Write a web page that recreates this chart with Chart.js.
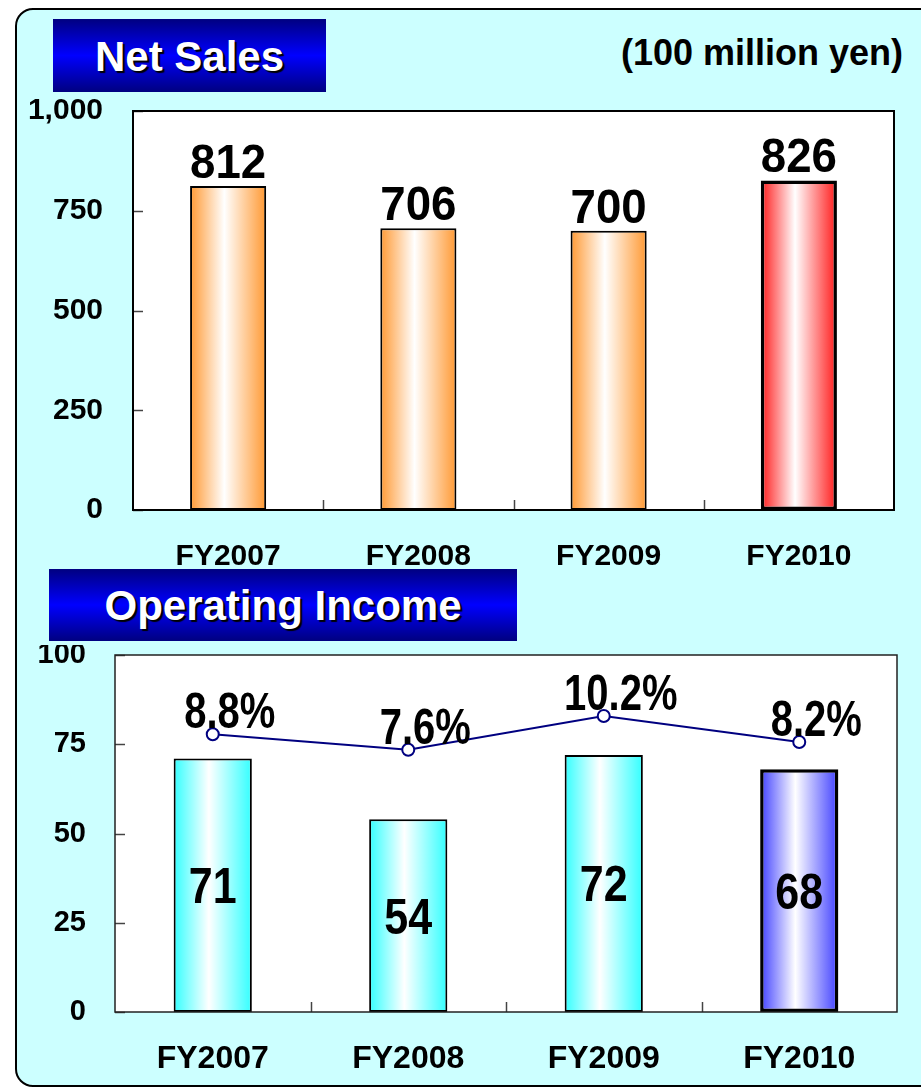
<!DOCTYPE html>
<html>
<head>
<meta charset="utf-8">
<script src="https://cdn.jsdelivr.net/npm/chart.js@4.4.0/dist/chart.umd.min.js"></script>
<style>
  html, body { margin:0; padding:0; background:#fff; width:921px; height:1088px; overflow:hidden;
    font-family:"Liberation Sans", Arial, sans-serif; }
  .panel { position:absolute; left:15px; top:8px; width:940px; height:1075px; background:#ccffff;
    border:2px solid #000; border-radius:18px; }
  .title { position:absolute; color:#fff; font-weight:bold; font-size:42px; text-align:center;
    text-shadow:2px 2px 1px #000; background:linear-gradient(#000080, #0000ff 50%, #000080); }
  .unit { position:absolute; right:18px; top:32px; font-weight:bold; font-size:36px; color:#000; }
  canvas { position:absolute; left:0; }
</style>
</head>
<body>
<div class="panel"></div>
<div class="title" style="left:53px; top:19px; width:273px; height:73px; line-height:75px;">Net Sales</div>
<div class="unit">(100 million yen)</div>
<div class="title" style="left:49px; top:569px; width:468px; height:72px; line-height:74px;">Operating Income</div>
<canvas id="sales" width="921" height="480" style="top:95px"></canvas>
<canvas id="income" width="921" height="440" style="top:645px"></canvas>
<script>
const years = ['FY2007', 'FY2008', 'FY2009', 'FY2010'];
const netSales = [812, 706, 700, 826];
const salesTicks = [0, 250, 500, 750, 1000];
const opIncome = [71, 54, 72, 68];
const opMargin = [8.8, 7.6, 10.2, 8.2];
const incomeTicks = [0, 25, 50, 75, 100];

const BAR_PCT = 0.4;
const FONT = '"Liberation Sans", Arial, sans-serif';

// horizontal gradient across each bar, edge colour -> white -> edge colour
function barFill(edge) {
  return function (c) {
    const chart = c.chart, a = chart.chartArea;
    if (!a || !chart.scales.x) return edge;
    const cx = chart.scales.x.getPixelForValue(c.dataIndex);
    const w = a.width / years.length * BAR_PCT;
    const g = chart.ctx.createLinearGradient(cx - w / 2, 0, cx + w / 2, 0);
    g.addColorStop(0, edge);
    g.addColorStop(0.45, '#ffffff');
    g.addColorStop(1, edge);
    return g;
  };
}

function drawText(ctx, text, x, cy, size, sx) {
  ctx.save();
  ctx.translate(x, cy + size * 0.358);
  ctx.scale(sx, 1);
  ctx.font = 'bold ' + size + 'px ' + FONT;
  ctx.textAlign = 'center';
  ctx.textBaseline = 'alphabetic';
  ctx.fillStyle = '#000';
  ctx.fillText(text, 0, 0);
  ctx.restore();
}

// white plot area, frame and inward tick marks
const frame = {
  id: 'frame',
  beforeDraw(chart, args, o) {
    const { ctx, chartArea: a } = chart;
    ctx.save();
    ctx.fillStyle = '#fff';
    ctx.fillRect(a.left, a.top, a.width, a.height);
    ctx.strokeStyle = '#444';
    ctx.lineWidth = 1.5;
    const ys = chart.scales.y;
    ys.ticks.forEach(t => {
      const y = Math.round(ys.getPixelForValue(t.value)) + 0.5;
      ctx.beginPath(); ctx.moveTo(a.left, y); ctx.lineTo(a.left + 10, y); ctx.stroke();
    });
    const xs = chart.scales.x;
    for (let i = 1; i < years.length; i++) {
      const x = Math.round((xs.getPixelForValue(i - 1) + xs.getPixelForValue(i)) / 2) + 0.5;
      ctx.beginPath(); ctx.moveTo(x, a.bottom); ctx.lineTo(x, a.bottom - 10); ctx.stroke();
    }
    ctx.restore();
  },
  afterDatasetsDraw(chart, args, o) {
    const { ctx, chartArea: a } = chart;
    ctx.save();
    ctx.strokeStyle = o.color || '#000';
    ctx.lineWidth = o.width || 2;
    ctx.strokeRect(a.left, a.top, a.width, a.height);
    ctx.restore();
  }
};

function scaleX(fontSize, pad, h) {
  return {
    grid: { display: false }, border: { display: false },
    ticks: { color: '#000', padding: pad, font: { family: FONT, size: fontSize, weight: 'bold', lineHeight: 1 } },
    afterFit: s => { s.height = h; }
  };
}
function scaleY(list, fontSize, pad, w) {
  return {
    min: list[0], max: list[list.length - 1],
    grid: { display: false, drawTicks: false }, border: { display: false },
    afterBuildTicks: s => { s.ticks = list.map(v => ({ value: v })); },
    ticks: { color: '#000', padding: pad, font: { family: FONT, size: fontSize, weight: 'bold', lineHeight: 1 },
      callback: v => v.toLocaleString('en-US') },
    afterFit: s => { s.width = w; s.paddingTop = 0; s.paddingBottom = 0; }
  };
}

new Chart(document.getElementById('sales'), {
  type: 'bar',
  data: {
    labels: years,
    datasets: [{
      data: netSales,
      backgroundColor: c => barFill(c.dataIndex === 3 ? '#ff1a1a' : '#ff9933')(c),
      borderColor: '#000',
      borderWidth: c => c.dataIndex === 3 ? 3.5 : 2,
      borderSkipped: false,
      barPercentage: BAR_PCT,
      categoryPercentage: 1
    }]
  },
  options: {
    responsive: false, animation: false,
    layout: { padding: { left: 0, top: 16, right: 27, bottom: 0 } },
    plugins: { legend: { display: false }, tooltip: { enabled: false }, frame: { color: '#000', width: 2 } },
    scales: {
      x: scaleX(30, 24, 65),
      y: scaleY(salesTicks, 30, 30, 133)
    }
  },
  plugins: [frame, {
    id: 'salesLabels',
    afterDatasetsDraw(chart) {
      const ctx = chart.ctx;
      chart.getDatasetMeta(0).data.forEach((bar, i) => {
        drawText(ctx, String(netSales[i]), bar.x, bar.y - 8 - 48 * 0.358, 48, 0.95);
      });
    }
  }]
});

new Chart(document.getElementById('income'), {
  type: 'bar',
  data: {
    labels: years,
    datasets: [{
      type: 'line',
      data: opMargin,
      yAxisID: 'y2',
      borderColor: '#000080',
      borderWidth: 2,
      pointRadius: 6,
      pointBackgroundColor: '#fff',
      pointBorderColor: '#000080',
      pointBorderWidth: 2,
      order: 0
    }, {
      data: opIncome,
      yAxisID: 'y',
      backgroundColor: c => barFill(c.dataIndex === 3 ? '#4040ff' : '#33ffff')(c),
      borderColor: '#000',
      borderWidth: c => c.dataIndex === 3 ? 3.5 : 2,
      borderSkipped: false,
      barPercentage: BAR_PCT,
      categoryPercentage: 1,
      order: 1
    }]
  },
  options: {
    responsive: false, animation: false,
    layout: { padding: { left: 0, top: 10, right: 24, bottom: 0 } },
    plugins: { legend: { display: false }, tooltip: { enabled: false }, frame: { color: '#222', width: 1.5 } },
    scales: {
      x: scaleX(32, 23, 73),
      y: scaleY(incomeTicks, 29, 29, 115),
      y2: { display: false, min: -12.6, max: 14.9 }
    }
  },
  plugins: [frame, {
    id: 'incomeLabels',
    afterDatasetsDraw(chart) {
      const ctx = chart.ctx;
      chart.getDatasetMeta(1).data.forEach((bar, i) => {
        drawText(ctx, String(opIncome[i]), bar.x, (bar.y + bar.base) / 2, 50, 0.86);
      });
      chart.getDatasetMeta(0).data.forEach((pt, i) => {
        drawText(ctx, opMargin[i].toFixed(1) + '%', pt.x + 17, pt.y - 6 - 50 * 0.358, 50, 0.8);
      });
    }
  }]
});
</script>
</body>
</html>
